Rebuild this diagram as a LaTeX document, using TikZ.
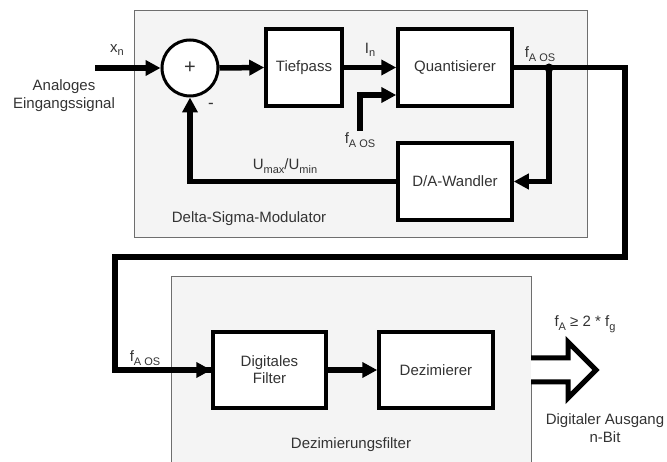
\documentclass[tikz,border=0pt]{standalone}
\usepackage{fontspec}
\setmainfont{Liberation Sans}
\usetikzlibrary{arrows.meta}
\newcommand{\lsub}[1]{\raisebox{-0.45ex}{\fontsize{11}{12}\selectfont #1}}
\definecolor{txt}{HTML}{333333}
\definecolor{panel}{HTML}{F4F4F4}
\definecolor{panelline}{HTML}{6E6E6E}
\begin{document}
\begin{tikzpicture}[x=1pt,y=-1pt,
  font=\fontsize{15}{18}\selectfont, text=txt,
  block/.style={draw=black, line width=3.5pt, fill=white, rectangle, inner sep=2pt, align=center},
  conn/.style={line width=5.5pt, -{Triangle[length=15pt,width=15pt]}},
  wire/.style={line width=5.5pt},
  lbl/.style={inner sep=0pt},
  panelbox/.style={fill=panel, draw=panelline, line width=0.8pt}]
\useasboundingbox (0,0) rectangle (667,462);
\fill[white] (0,0) rectangle (667,462);
% panels
\draw[panelbox] (134,10) rectangle (587,237);
\fill[panel] (171,276) rectangle (531,462);
\draw[panelline, line width=0.8pt] (171,462) -- (171,276) -- (531,276) -- (531,462);
% blocks
\node[draw=black, line width=3pt, fill=white, circle, minimum size=56pt, inner sep=0pt, font=\fontsize{20}{20}\selectfont] (sum) at (190,68) {+};
\node[block, minimum width=76pt, minimum height=77pt] (tp) at (304,67.5) {Tiefpass};
\node[block, minimum width=114pt, minimum height=77pt] (q) at (455,67.5) {Quantisierer};
\node[block, minimum width=114pt, minimum height=77pt] (da) at (455,181.5) {D/A-Wandler};
\node[block, minimum width=113pt, minimum height=76pt] (df) at (269.5,370) {Digitales\\[-1pt]Filter};
\node[block, minimum width=114pt, minimum height=76pt] (dz) at (436,370) {Dezimierer};
% coordinates
\coordinate (in) at (95,68);
\coordinate (qin) at (360,131);
\coordinate (split) at (549,68);
\coordinate (turnR) at (625,257);
\coordinate (turnL) at (115,257);
% connectors
\draw[conn] (in) -- (sum.west);
\draw[conn] (sum.east) -- (tp.west);
\draw[conn] (tp.east) -- (q.west);
\draw[conn] (qin) |- ([yshift=-27.5pt]q.west);
\draw[wire] (q.east) -| (turnR) -- (turnL) |- (df.west);
\draw[conn] (turnL) |- (df.west);
\draw[conn] (split) |- (da.east);
\draw[conn] (da.west) -| (sum.south);
\draw[conn] (df.east) -- (dz.west);
\fill[black] (split) circle (4.5pt);
\node[circle, inner sep=0pt, minimum size=0pt] (splitnode) at (split) {};
% hollow output arrow
\draw[line width=5pt, fill=white, line join=miter]
  (531,358) -- (568,358) -- (568,342) -- (596,370) -- (568,398) -- (568,382) -- (531,382);
% labels
\node[lbl] (lxn) at (117,50) {x\lsub{n}};
\node[lbl] (lin) at (370,50) {I\lsub{n}};
\node[lbl] (lfq) at (540,54) {f\lsub{A OS}};
\node[lbl] (lfqi) at (360,140) {f\lsub{A OS}};
\node[lbl] (lfdf) at (145,358) {f\lsub{A OS}};
\node[lbl] (lu) at (285,166) {U\lsub{max}/U\lsub{min}};
\node[lbl, font=\fontsize{17}{17}\selectfont] (lminus) at (211,106) {-};
\node[lbl, align=center] (lana) at (64,96) {Analoges\\Eingangssignal};
\node[lbl] (ldsm) at (249,219) {Delta-Sigma-Modulator};
\node[lbl] (ldzf) at (351,445) {Dezimierungsfilter};
\node[lbl] (lfa) at (585,324) {f\lsub{A} ≥ 2 * f\lsub{g}};
\node[lbl, align=center] (lout) at (605,428) {Digitaler Ausgang\\n-Bit};
\end{tikzpicture}
\end{document}
